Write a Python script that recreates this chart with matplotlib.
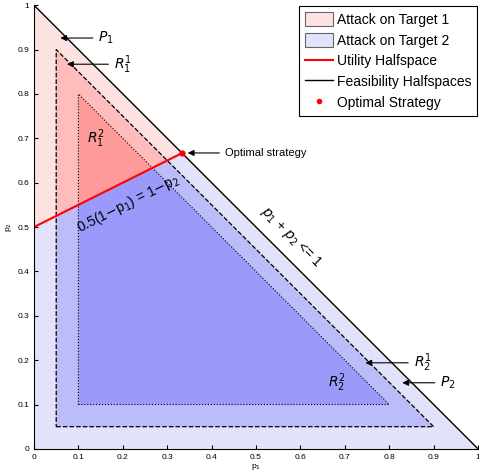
import numpy as np
import matplotlib.pyplot as plt
from matplotlib.patches import Polygon, Patch
from matplotlib.lines import Line2D

plt.rcParams['font.family'] = ['Liberation Sans', 'DejaVu Sans']

# shrink of each nested region (P, R^1, R^2)
offsets = [0.0, 0.05, 0.1]
styles = ['-', '--', ':']
pink = ['#fde2e2', '#ffbcbc', '#ff9a9a']
blue = ['#e2e2fb', '#bcbcfb', '#9a9afb']

# utility halfspace: 0.5(1-p1) = 1-p2  ->  p2 = a + b*p1
a, b = 0.5, 0.5
opt = (1 / 3, 2 / 3)
ticks = np.round(np.arange(0, 1.01, 0.1), 1)


def triangle(d):
    return [(d, d), (1 - 2 * d, d), (d, 1 - 2 * d)]


def clip(poly, sign):
    # keep points with sign*(p2 - a - b*p1) >= 0
    f = lambda p: sign * (p[1] - a - b * p[0])
    out = []
    for i in range(len(poly)):
        p, q = poly[i], poly[(i + 1) % len(poly)]
        fp, fq = f(p), f(q)
        if fp >= 0:
            out.append(p)
        if fp * fq < 0:
            t = fp / (fp - fq)
            out.append((p[0] + t * (q[0] - p[0]), p[1] + t * (q[1] - p[1])))
    return out


fig = plt.figure(figsize=(4.79, 4.73), dpi=100)
ax = fig.add_axes([0.071, 0.051, 0.927, 0.938])

for d, c1, c2, ls in zip(offsets, pink, blue, styles):
    tri = triangle(d)
    ax.add_patch(Polygon(clip(tri, 1), closed=True, fc=c1, ec='none'))
    ax.add_patch(Polygon(clip(tri, -1), closed=True, fc=c2, ec='none'))
    if d > 0:
        ax.add_patch(Polygon(tri, closed=True, fill=False, ec='k',
                             ls=ls, lw=0.9 if ls == '--' else 0.8))

ax.plot([0, 1], [1, 0], color='k', lw=1)
ax.plot([0, opt[0]], [a, a + b * opt[0]], color='r', lw=1.5)
ax.plot(*opt, 'o', color='r', ms=3.5)

arr = dict(arrowstyle='-|>', color='k', lw=0.8, mutation_scale=9)
ax.annotate('$P_1$', xy=(0.053, 0.926), xytext=(0.145, 0.926),
            va='center', fontsize=10, arrowprops=arr)
ax.annotate('$R_1^1$', xy=(0.068, 0.867), xytext=(0.18, 0.867),
            va='center', fontsize=10, arrowprops=arr)
ax.annotate('Optimal strategy', xy=(0.34, 0.667), xytext=(0.43, 0.667),
            va='center', fontsize=8, arrowprops=arr)
ax.annotate('$R_2^1$', xy=(0.74, 0.194), xytext=(0.855, 0.194),
            va='center', fontsize=10, arrowprops=arr)
ax.annotate('$P_2$', xy=(0.823, 0.149), xytext=(0.915, 0.149),
            va='center', fontsize=10, arrowprops=arr)
ax.text(0.14, 0.70, '$R_1^2$', fontsize=10, ha='center', va='center')
ax.text(0.682, 0.149, '$R_2^2$', fontsize=10, ha='center', va='center')
ax.text(0.213, 0.553, '0.5(1$-$p$_1$) = 1$-$p$_2$', fontsize=10,
        rotation=26.6, ha='center', va='center')
ax.text(0.58, 0.478, '$p_1$ + $p_2$ <= 1', fontsize=10,
        rotation=-45, ha='center', va='center')

handles = [Patch(fc=pink[0], ec='0.4', lw=0.8, label='Attack on Target 1'),
           Patch(fc=blue[0], ec='0.4', lw=0.8, label='Attack on Target 2'),
           Line2D([], [], color='r', lw=1.5, label='Utility Halfspace'),
           Line2D([], [], color='k', lw=1, label='Feasibility Halfspaces'),
           Line2D([], [], color='r', marker='o', ms=3, ls='none',
                  label='Optimal Strategy')]
leg = ax.legend(handles=handles, loc='upper right', fontsize=10,
                fancybox=False, edgecolor='k', framealpha=1,
                borderaxespad=0.05, borderpad=0.45, handlelength=2.0,
                handleheight=1.15, handletextpad=0.25, labelspacing=0.45)
leg.get_frame().set_linewidth(0.8)

ax.set_xlim(0, 1)
ax.set_ylim(0, 1)
ax.set_xticks(ticks)
ax.set_yticks(ticks)
ax.set_xticklabels([f'{t:g}' for t in ticks])
ax.set_yticklabels([f'{t:g}' for t in ticks])
ax.tick_params(direction='in', labelsize=6, length=3, width=0.8)
for s in ['top', 'right']:
    ax.spines[s].set_visible(False)
ax.set_xlabel('p$_1$', fontsize=6, labelpad=1)
ax.set_ylabel('p$_2$', fontsize=6, labelpad=2)

fig.savefig('out.png', dpi=100)
